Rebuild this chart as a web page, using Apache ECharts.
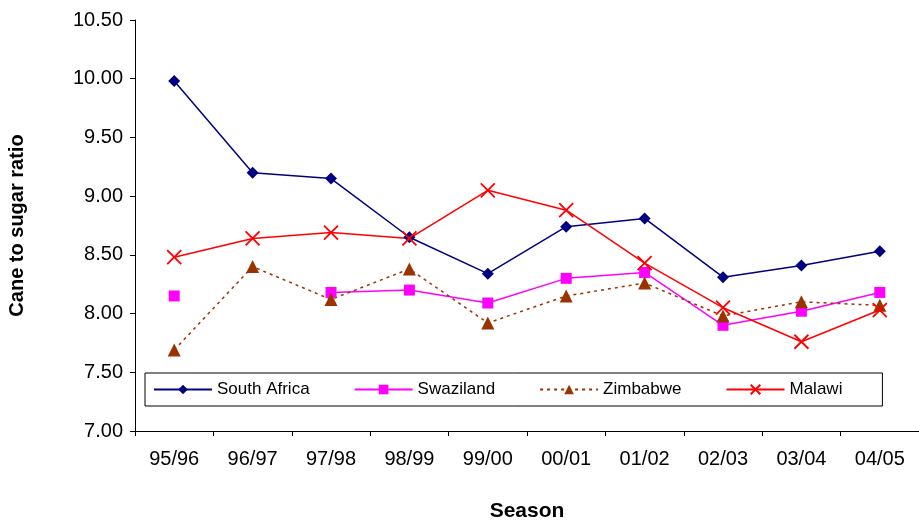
<!DOCTYPE html>
<html>
<head>
<meta charset="UTF-8">
<script src="https://cdn.jsdelivr.net/npm/echarts@6/dist/echarts.min.js"></script>
<style>body{margin:0;background:#fff}#c{width:919px;height:521px}</style>
</head>
<body>
<div id="c"></div>
<script>
let seasons = ['95/96', '96/97', '97/98', '98/99', '99/00', '00/01', '01/02', '02/03', '03/04', '04/05']
let southAfrica = [9.98, 9.20, 9.15, 8.65, 8.34, 8.74, 8.81, 8.31, 8.41, 8.53]
let swaziland = [8.15, null, 8.18, 8.20, 8.09, 8.30, 8.35, 7.90, 8.02, 8.18]
let zimbabwe = [7.69, 8.40, 8.12, 8.38, 7.92, 8.15, 8.26, 7.98, 8.10, 8.07]
let malawi = [8.48, 8.64, 8.69, 8.64, 9.05, 8.88, 8.43, 8.05, 7.76, 8.03]

let chart = echarts.init(document.getElementById('c'))
let font = 'Liberation Sans'
function line(name, data, color, symbol, size, dashed) {
    let cross = symbol.startsWith('path')
    return {
        name: name, type: 'line', data: data, symbol: symbol, symbolSize: size,
        connectNulls: false, animation: false,
        lineStyle: { color: color, width: 1.5, type: dashed ? [3, 4] : 'solid' },
        itemStyle: cross ? { color: 'rgba(0,0,0,0)', borderColor: color, borderWidth: 1.8 } : { color: color }
    }
}
chart.setOption({
    textStyle: { fontFamily: font },
    grid: { left: 135, right: 0, top: 20, bottom: 90, outerBoundsMode: 'none', containLabel: false },
    legend: {
        left: 145, top: 373, right: 2, itemGap: 44,
        backgroundColor: '#fff', borderColor: '#000', borderWidth: 1,
        padding: [8, 40, 8, 8], itemWidth: 58, itemHeight: 12,
        textStyle: { fontSize: 17, color: '#000', fontFamily: font }
    },
    xAxis: {
        type: 'category', data: seasons, name: 'Season', nameLocation: 'middle', nameGap: 70,
        nameTextStyle: { fontSize: 21, fontWeight: 'bold', color: '#000' },
        axisLine: { lineStyle: { color: '#000' } },
        axisTick: { show: true, alignWithLabel: false, length: 5, lineStyle: { color: '#000' } },
        axisLabel: { fontSize: 20, color: '#000', margin: 18 }
    },
    yAxis: {
        type: 'value', min: 7, max: 10.5, interval: 0.5,
        name: 'Cane to sugar ratio', nameLocation: 'middle', nameGap: 108, nameRotate: 90,
        nameTextStyle: { fontSize: 20, fontWeight: 'bold', color: '#000' },
        axisLine: { show: true, lineStyle: { color: '#000' } },
        axisTick: { show: true, length: 5, lineStyle: { color: '#000' } },
        splitLine: { show: false },
        axisLabel: { fontSize: 20, color: '#000', margin: 12, formatter: v => v.toFixed(2) }
    },
    series: [
        line('South Africa', southAfrica, '#000080', 'diamond', 12, false),
        line('Swaziland', swaziland, '#ff00ff', 'rect', 11, false),
        line('Zimbabwe', zimbabwe, '#993300', 'triangle', 13, true),
        line('Malawi', malawi, '#ff0000', 'path://M0,0L10,10M10,0L0,10', 14, false)
    ]
})
</script>
</body>
</html>
